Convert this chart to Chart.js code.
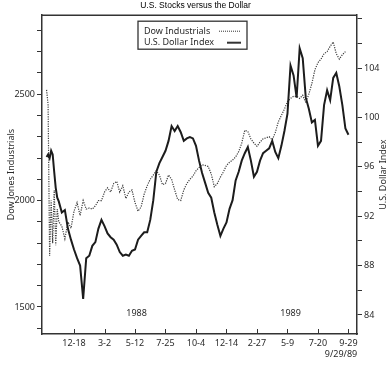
<!DOCTYPE html>
<html>
<head>
<meta charset="utf-8">
<script src="https://cdn.jsdelivr.net/npm/chart.js@4.4.0/dist/chart.umd.min.js"></script>
<style>
  html, body { margin: 0; padding: 0; background: #fff; }
</style>
</head>
<body>
<canvas id="chart" width="391" height="367"></canvas>
<script>
// week index (10 = 12-18-87, 100 = 9-29-89), finer steps around the crash
let weeks = [1, 1.5, 2, 2.5, 3, 3.5, 4, 4.5, 5, 6, 7, 8, 9, 10,
  11, 12, 13, 14, 15, 16, 17, 18, 19, 20, 21, 22, 23, 24, 25, 26, 27, 28, 29, 30,
  31, 32, 33, 34, 35, 36, 37, 38, 39, 40, 41, 42, 43, 44, 45, 46, 47, 48, 49, 50,
  51, 52, 53, 54, 55, 56, 57, 58, 59, 60, 61, 62, 63, 64, 65, 66, 67, 68, 69, 70,
  71, 72, 73, 74, 75, 76, 77, 78, 79, 80, 81, 82, 83, 84, 85, 86, 87, 88, 89, 90,
  91, 92, 93, 94, 95, 96, 97, 98, 99, 100];

let dow = [2520, 2450, 1740, 2000, 1800, 2050, 1790, 1960, 1900, 1880, 1820, 1900, 1870, 1950,
  1990, 1930, 2000, 1960, 1965, 1960, 1975, 2000, 2000, 2040, 2060, 2040, 2080, 2090, 2040, 2070, 2010, 2040, 2050, 1990,
  1950, 1970, 2030, 2070, 2100, 2120, 2140, 2120, 2075, 2080, 2120, 2100, 2050, 2005, 2000, 2050, 2080, 2100, 2115, 2140,
  2155, 2168, 2165, 2160, 2125, 2065, 2080, 2110, 2135, 2165, 2180, 2190, 2205, 2230, 2270, 2330, 2325, 2290, 2270, 2255,
  2275, 2290, 2295, 2300, 2285, 2320, 2370, 2400, 2430, 2465, 2480, 2490, 2490, 2480, 2495, 2460, 2500, 2550, 2615, 2648,
  2665, 2690, 2700, 2725, 2745, 2690, 2665, 2685, 2700, null];

let dollar = [96.8, 97.0, 96.7, 97.3, 97.0, 95.6, 94.3, 93.5, 93.2, 92.3, 92.5, 91.0, 90.1, 89.3,
  88.6, 88.0, 85.3, 88.6, 88.8, 89.6, 89.9, 91.0, 91.7, 91.2, 90.6, 90.3, 90.1, 89.7, 89.1, 88.8, 88.9, 88.8, 89.2, 89.3,
  90.1, 90.4, 90.7, 90.7, 91.7, 93.3, 95.6, 96.3, 96.8, 97.3, 98.1, 99.3, 98.9, 99.3, 98.8, 98.1, 98.3, 98.4, 98.3, 97.7,
  96.5, 95.5, 94.7, 93.9, 93.5, 92.3, 91.3, 90.4, 91.0, 91.5, 92.6, 93.3, 94.9, 95.6, 96.5, 97.1, 97.6, 96.5, 95.2, 95.6,
  96.5, 97.1, 97.3, 97.5, 98.1, 97.2, 96.7, 97.7, 98.9, 100.3, 104.2, 103.4, 101.6, 105.6, 104.8, 101.6, 100.7, 99.6, 99.8, 97.7,
  98.1, 101.0, 102.2, 101.4, 103.2, 103.6, 102.5, 101.0, 99.1, 98.6];

let tickWeeks = [10, 20, 30, 40, 50, 60, 70, 80, 90, 100];
let tickLabels = ['12-18', '3-2', '5-12', '7-25', '10-4', '12-14', '2-27', '5-9', '7-20', '9-29'];
let dowTicks = [1400, 1500, 1600, 1700, 1800, 1900, 2000, 2100, 2200, 2300, 2400, 2500, 2600, 2700, 2800];
let dowTickLabels = [1500, 2000, 2500];
let dollarTicks = [84, 86, 88, 90, 92, 94, 96, 98, 100, 102, 104, 106, 108];
let dollarTickLabels = [84, 88, 92, 96, 100, 104];
let yearLabels = ['1988', '1989'];
let yearWeeks = [30.5, 81];

const FONT = '"Noto Sans", sans-serif';
const INK = '#2a2a2a';

const decorations = {
  id: 'decorations',
  afterDraw(chart) {
    const c = chart.ctx;
    const a = chart.chartArea;
    const xs = chart.scales.x;
    c.save();
    // top frame line
    c.strokeStyle = '#333';
    c.lineWidth = 1.5;
    c.beginPath();
    c.moveTo(a.left, a.top);
    c.lineTo(a.right, a.top);
    c.stroke();
    // x ticks pointing into the plot
    c.lineWidth = 1;
    tickWeeks.forEach(w => {
      const px = Math.round(xs.getPixelForValue(w)) + 0.5;
      c.beginPath();
      c.moveTo(px, a.bottom);
      c.lineTo(px, a.bottom - 5);
      c.stroke();
    });
    c.fillStyle = INK;
    // axis titles
    c.font = '9px ' + FONT;
    c.textAlign = 'center';
    c.textBaseline = 'middle';
    c.save();
    c.translate(11, (a.top + a.bottom) / 2);
    c.rotate(-Math.PI / 2);
    c.fillText('Dow Jones Industrials', 0, 0);
    c.restore();
    c.save();
    c.translate(383, (a.top + a.bottom) / 2);
    c.rotate(-Math.PI / 2);
    c.fillText('U.S. Dollar Index', 0, 0);
    c.restore();
    // year labels
    yearLabels.forEach((t, i) => {
      c.fillText(t, xs.getPixelForValue(yearWeeks[i]), a.bottom - 21);
    });
    c.fillText('9/29/89', a.right - 16, a.bottom + 20);
    // legend
    const lx = a.left + 96, ly = a.top + 6;
    c.fillStyle = '#fff';
    c.fillRect(lx, ly, 109, 28);
    c.strokeStyle = '#333';
    c.lineWidth = 1.3;
    c.strokeRect(lx, ly, 109, 28);
    c.fillStyle = INK;
    c.textAlign = 'left';
    c.font = '9px ' + FONT;
    c.fillText('Dow Industrials', lx + 6, ly + 10);
    c.fillText('U.S. Dollar Index', lx + 6, ly + 21);
    c.lineWidth = 1;
    c.setLineDash([1, 1]);
    c.beginPath();
    c.moveTo(lx + 81, ly + 10);
    c.lineTo(lx + 103, ly + 10);
    c.stroke();
    c.setLineDash([]);
    c.lineWidth = 2;
    c.beginPath();
    c.moveTo(lx + 89, ly + 21.5);
    c.lineTo(lx + 103, ly + 21.5);
    c.stroke();
    c.restore();
  }
};

let ctx = document.getElementById('chart').getContext('2d');

let chart = new Chart(ctx, {
  type: 'line',
  data: {
    datasets: [{
      label: 'U.S. Dollar Index',
      data: weeks.map((w, i) => ({ x: w, y: dollar[i] })),
      yAxisID: 'y1',
      borderColor: '#1c1c1c',
      borderWidth: 2,
      pointRadius: 0,
      tension: 0
    }, {
      label: 'Dow Industrials',
      data: weeks.map((w, i) => ({ x: w, y: dow[i] })),
      yAxisID: 'y',
      borderColor: '#3c3c3c',
      borderWidth: 1.2,
      borderDash: [1.2, 1.2],
      pointRadius: 0,
      tension: 0
    }]
  },
  options: {
    responsive: false,
    animation: false,
    devicePixelRatio: 1,
    layout: { padding: 0 },
    plugins: {
      title: {
        display: true,
        text: 'U.S. Stocks versus the Dollar',
        color: '#000',
        font: { family: '"Liberation Sans", Arial, sans-serif', size: 8.5, weight: 'normal' },
        padding: { top: 1, bottom: 4 }
      },
      legend: { display: false },
      tooltip: { enabled: false }
    },
    scales: {
      x: {
        type: 'linear',
        min: -0.5,
        max: 102.8,
        grid: { display: false, drawTicks: false },
        border: { display: true, color: '#333', width: 1.5 },
        afterBuildTicks: s => { s.ticks = tickWeeks.map(v => ({ value: v })); },
        ticks: {
          autoSkip: false,
          maxRotation: 0,
          padding: 4,
          color: INK,
          font: { family: FONT, size: 9 },
          callback: v => tickLabels[tickWeeks.indexOf(v)] || ''
        },
        afterFit: s => { s.height = 33; }
      },
      y: {
        position: 'left',
        min: 1373,
        max: 2871,
        grid: { drawOnChartArea: false, tickLength: 5, color: '#333' },
        border: { display: true, color: '#333', width: 1.5 },
        afterBuildTicks: s => { s.ticks = dowTicks.map(v => ({ value: v })); },
        ticks: {
          autoSkip: false,
          padding: 2,
          color: INK,
          font: { family: FONT, size: 9 },
          callback: v => (dowTickLabels.includes(v) ? v : '')
        },
        afterFit: s => { s.width = 42; }
      },
      y1: {
        position: 'right',
        min: 82.46,
        max: 108.28,
        grid: { drawOnChartArea: false, tickLength: 5, color: '#333' },
        border: { display: true, color: '#333', width: 1.5 },
        afterBuildTicks: s => { s.ticks = dollarTicks.map(v => ({ value: v })); },
        ticks: {
          autoSkip: false,
          padding: 2,
          color: INK,
          font: { family: FONT, size: 9 },
          callback: v => (dollarTickLabels.includes(v) ? v : '')
        },
        afterFit: s => { s.width = 34; }
      }
    }
  },
  plugins: [decorations]
});
</script>
</body>
</html>
